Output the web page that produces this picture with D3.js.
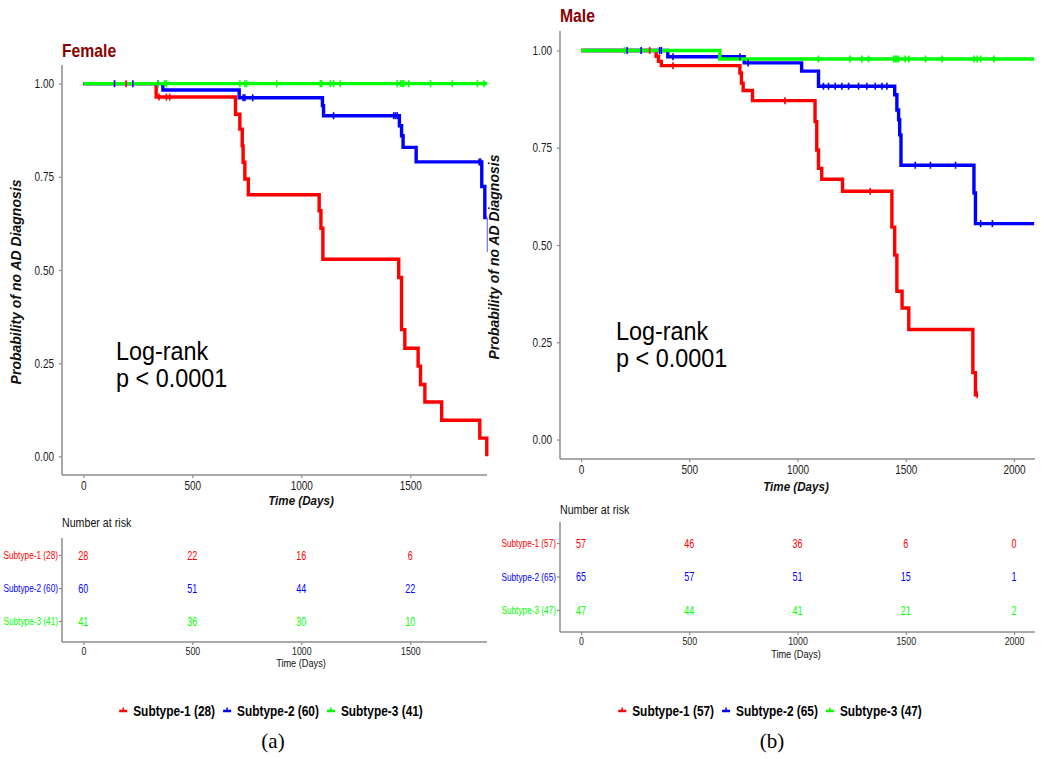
<!DOCTYPE html>
<html>
<head>
<meta charset="utf-8">
<script src="https://cdn.jsdelivr.net/npm/d3@7"></script>
<style>
body { margin: 0; background: #fff; }
</style>
</head>
<body>
<div id="d3"></div>
<script>
// --- data ---
var subtypeNames = ["Subtype-1", "Subtype-2", "Subtype-3"];
var femaleCounts = [28, 60, 41];
var maleCounts = [57, 65, 47];
var femaleTicksX = [0, 500, 1000, 1500];
var maleTicksX = [0, 500, 1000, 1500, 2000];
var ticksY = [0, 0.25, 0.5, 0.75, 1];

// Kaplan-Meier steps: [day, survival]
var femaleSteps1 = [[0, 1], [334, 0.964], [698, 0.918], [718, 0.878], [729, 0.833], [733, 0.789], [741, 0.744], [757, 0.702],
    [1082, 0.659], [1090, 0.612], [1099, 0.529], [1447, 0.48], [1460, 0.34], [1475, 0.29], [1536, 0.242], [1547, 0.193],
    [1567, 0.146], [1644, 0.097], [1819, 0.049], [1851, 0]];
var femaleSteps2 = [[0, 1], [365, 0.983], [715, 0.962], [1097, 0.941], [1102, 0.914], [1450, 0.887], [1460, 0.86],
    [1467, 0.829], [1527, 0.79], [1828, 0.724], [1842, 0.641]];
var femaleSteps3 = [[0, 1]];
var femaleEnd = [1851, 1851, 1853];
var femaleSub2Tail = [0.641, 0.548];

var maleSteps1 = [[0, 1], [347, 0.985], [358, 0.972], [371, 0.961], [734, 0.942], [741, 0.916], [749, 0.897], [792, 0.871],
    [1081, 0.817], [1089, 0.744], [1097, 0.697], [1112, 0.669], [1208, 0.638], [1436, 0.546], [1449, 0.474], [1459, 0.381],
    [1483, 0.338], [1514, 0.283], [1810, 0.172], [1822, 0.115]];
var maleSteps2 = [[0, 1], [401, 0.984], [754, 0.968], [1019, 0.947], [1097, 0.908], [1449, 0.886], [1459, 0.847],
    [1467, 0.822], [1472, 0.783], [1478, 0.705], [1815, 0.634], [1822, 0.555]];
var maleSteps3 = [[0, 1], [641, 0.978]];
var maleEnd = [1830, 2093, 2093];

// censoring times (days)
var femaleCensor1 = [196, 347, 381, 396];
var femaleCensor2 = [143, 227, 342, 733, 741, 777, 1148, 1424, 1432, 1440, 1816, 1823];
var femaleCensor3 = [342, 373, 381, 718, 741, 749, 887, 1087, 1094, 1133, 1148, 1179, 1440, 1455, 1463, 1470, 1493,
    1593, 1693, 1808, 1838];
var maleCensor1 = [317, 425, 942, 1336, 1830];
var maleCensor2 = [213, 278, 363, 371, 425, 734, 772, 1120, 1143, 1174, 1205, 1236, 1282, 1320, 1359, 1390, 1413,
    1544, 1614, 1730, 1846, 1900];
var maleCensor3 = [201, 1097, 1243, 1297, 1328, 1444, 1452, 1459, 1467, 1498, 1514, 1591, 1668, 1815, 1830, 1846, 1907];

// number at risk
var femaleRisk = [[28, 22, 16, 6], [60, 51, 44, 22], [41, 36, 30, 10]];
var maleRisk = [[57, 46, 36, 6, 0], [65, 57, 51, 15, 1], [47, 44, 41, 21, 2]];

// --- drawing ---
var colors = ["#ff0000", "#0000ff", "#00ff00"];
var axisColor = "#8c8c8c";
var sans = "'Liberation Sans', Arial, sans-serif";

var svg = d3.select("#d3").append("svg").attr("width", 1050).attr("height", 759)
    .style("display", "block").style("background", "#fff");

// text squeezed horizontally (the figure uses a narrow face)
function ntext(g, x, y, s, size, sx, opts) {
    opts = opts || {};
    var t = g.append("text")
        .attr("transform", "translate(" + x + "," + y + ") scale(" + sx + ",1)")
        .attr("font-family", opts.family || sans)
        .attr("font-size", size)
        .attr("font-weight", opts.weight || "normal")
        .attr("font-style", opts.style || "normal")
        .attr("text-anchor", opts.anchor || "start")
        .attr("fill", opts.fill || "#1a1a1a")
        .text(s);
    return t;
}

function stepValue(steps, day) {
    var v = 1;
    steps.forEach(function(s) { if (s[0] <= day) v = s[1]; });
    return v;
}

function styleAxis(g, sx, size, fill) {
    g.attr("font-family", sans).attr("font-size", size);
    g.select(".domain").remove();
    g.selectAll(".tick line").attr("stroke", axisColor).attr("stroke-width", 1.2);
    g.selectAll(".tick text").attr("fill", fill || "#1a1a1a")
        .attr("transform", "scale(" + sx + ",1)")
        .attr("x", function() { return (+d3.select(this).attr("x") || 0) / sx; });
}

function drawPanel(p) {
    var g = svg.append("g");
    var x = d3.scaleLinear().domain(p.xDomain).range([p.left, p.right]);
    var y = d3.scaleLinear().domain([-0.05, 1.05]).range([p.bottom, p.top]);

    // axes lines
    g.append("line").attr("x1", p.left).attr("x2", p.left).attr("y1", p.top).attr("y2", p.bottom)
        .attr("stroke", axisColor).attr("stroke-width", 1.5);
    g.append("line").attr("x1", p.left).attr("x2", p.right).attr("y1", p.bottom).attr("y2", p.bottom)
        .attr("stroke", axisColor).attr("stroke-width", 1.5);

    var yAxis = g.append("g").attr("transform", "translate(" + p.left + ",0)")
        .call(d3.axisLeft(y).tickValues(ticksY).tickFormat(d3.format(".2f")).tickSize(3).tickPadding(5));
    styleAxis(yAxis, 0.8, 12.5);
    var xAxis = g.append("g").attr("transform", "translate(0," + p.bottom + ")")
        .call(d3.axisBottom(x).tickValues(p.ticksX).tickFormat(d3.format("d")).tickSize(3).tickPadding(3));
    styleAxis(xAxis, 0.8, 12.5);

    // curves
    var line = d3.line().x(function(d) { return x(d[0]); }).y(function(d) { return y(d[1]); })
        .curve(d3.curveStepAfter);
    p.steps.forEach(function(steps, i) {
        var pts = steps.concat([[p.end[i], steps[steps.length - 1][1]]]);
        g.append("path").attr("d", line(pts)).attr("fill", "none")
            .attr("stroke", colors[i]).attr("stroke-width", 3.4);
    });
    if (p.tail) {
        g.append("line").attr("x1", x(p.end[1]) + 0.5).attr("x2", x(p.end[1]) + 0.5)
            .attr("y1", y(p.tail[0])).attr("y2", y(p.tail[1]))
            .attr("stroke", "#5a5aff").attr("stroke-width", 1);
    }
    // censor marks
    p.censor.forEach(function(cs, i) {
        g.selectAll(null).data(cs).enter().append("line")
            .attr("x1", function(d) { return x(d); })
            .attr("x2", function(d) { return x(d); })
            .attr("y1", function(d) { return y(stepValue(p.steps[i], d)) - 3.5; })
            .attr("y2", function(d) { return y(stepValue(p.steps[i], d)) + 3.5; })
            .attr("stroke", colors[i]).attr("stroke-width", 1.6);
    });

    // titles
    ntext(g, p.left, p.titleY, p.title, 17.5, 0.9, { weight: "bold", fill: "#8b0000" });
    g.append("text")
        .attr("transform", "translate(" + p.yTitle[0] + "," + p.yTitle[1] + ") rotate(-90)")
        .attr("text-anchor", "middle").attr("font-family", sans).attr("font-size", 14)
        .attr("font-weight", "bold").attr("font-style", "italic").attr("fill", "#111")
        .text("Probability of no AD Diagnosis");
    ntext(g, p.xTitle[0], p.xTitle[1], "Time (Days)", 13.5, 0.86,
        { weight: "bold", style: "italic", anchor: "middle", fill: "#111" });

    // log-rank annotation
    ntext(g, p.logrank[0], p.logrank[1], "Log-rank", 26, 0.9, { fill: "#000" });
    ntext(g, p.logrank[0], p.logrank[1] + 27, "p < 0.0001", 26, 0.9, { fill: "#000" });

    // risk table
    var ty = d3.scalePoint().domain(subtypeNames).range(p.rowRange);
    var t = p.table;
    g.append("line").attr("x1", p.left).attr("x2", p.left).attr("y1", t.top).attr("y2", t.bottom)
        .attr("stroke", axisColor).attr("stroke-width", 1.5);
    g.append("line").attr("x1", p.left).attr("x2", p.right).attr("y1", t.bottom).attr("y2", t.bottom)
        .attr("stroke", axisColor).attr("stroke-width", 1.5);
    ntext(g, p.left, t.titleY, "Number at risk", 13.5, 0.79, { fill: "#111" });

    var rowAxis = g.append("g").attr("transform", "translate(" + p.left + ",0)")
        .call(d3.axisLeft(ty).tickSize(3).tickPadding(1)
            .tickFormat(function(d, i) { return d + " (" + p.counts[i] + ")"; }));
    styleAxis(rowAxis, 0.75, 11);
    rowAxis.selectAll(".tick text").attr("fill", function(d, i) { return colors[i]; });

    var tAxis = g.append("g").attr("transform", "translate(0," + t.bottom + ")")
        .call(d3.axisBottom(x).tickValues(p.ticksX).tickFormat(d3.format("d")).tickSize(3).tickPadding(2));
    styleAxis(tAxis, 0.8, 11);
    ntext(g, p.xTitle[0], t.xTitleY, "Time (Days)", 11.5, 0.8, { anchor: "middle", fill: "#111" });

    p.risk.forEach(function(row, i) {
        row.forEach(function(n, j) {
            ntext(g, x(p.ticksX[j]), ty(subtypeNames[i]) + 4.5, n, 12.5, 0.72,
                { anchor: "middle", fill: colors[i] });
        });
    });

    // legend
    var lg = g.append("g");
    var items = [], cx = 0;
    subtypeNames.forEach(function(name, i) {
        var it = lg.append("g");
        it.append("line").attr("x1", -4).attr("x2", 4).attr("y1", 0).attr("y2", 0)
            .attr("stroke", colors[i]).attr("stroke-width", 2.5);
        it.append("line").attr("x1", 0).attr("x2", 0).attr("y1", -3.5).attr("y2", 0)
            .attr("stroke", colors[i]).attr("stroke-width", 1.5);
        var tx = ntext(it, 10, 4.5, name + " (" + p.counts[i] + ")", 14.5, 0.82,
            { weight: "bold", fill: "#000" });
        var w = tx.node().getComputedTextLength() * 0.82;
        items.push({ g: it, x: cx });
        cx += 10 + w + 12;
    });
    var total = cx - 12 + 4;
    var start = p.legendCenter - total / 2 + 4;
    items.forEach(function(d) {
        d.g.attr("transform", "translate(" + (start + d.x) + "," + p.legendY + ")");
    });

    // panel label
    svg.append("text").attr("x", p.legendCenter + 2).attr("y", 748).attr("text-anchor", "middle")
        .attr("font-family", "'Liberation Serif', 'Times New Roman', serif").attr("font-size", 21)
        .attr("fill", "#000").text(p.label);
}

drawPanel({
    title: "Female", titleY: 57, label: "(a)",
    left: 62, right: 487, top: 65, bottom: 475, xDomain: [-98, 1852],
    ticksX: femaleTicksX, steps: [femaleSteps1, femaleSteps2, femaleSteps3], end: femaleEnd,
    tail: femaleSub2Tail, censor: [femaleCensor1, femaleCensor2, femaleCensor3],
    yTitle: [21, 282], xTitle: [301, 505], logrank: [116, 360],
    table: { top: 538, bottom: 642, titleY: 527, xTitleY: 667 }, rowRange: [555, 621],
    counts: femaleCounts, risk: femaleRisk, legendCenter: 271, legendY: 711
});

drawPanel({
    title: "Male", titleY: 22, label: "(b)",
    left: 560, right: 1035, top: 31, bottom: 459, xDomain: [-97, 2097],
    ticksX: maleTicksX, steps: [maleSteps1, maleSteps2, maleSteps3], end: maleEnd,
    tail: null, censor: [maleCensor1, maleCensor2, maleCensor3],
    yTitle: [499, 257], xTitle: [796, 491], logrank: [616, 340],
    table: { top: 522, bottom: 632, titleY: 514, xTitleY: 658 }, rowRange: [543, 610],
    counts: maleCounts, risk: maleRisk, legendCenter: 770, legendY: 711
});
</script>
</body>
</html>
